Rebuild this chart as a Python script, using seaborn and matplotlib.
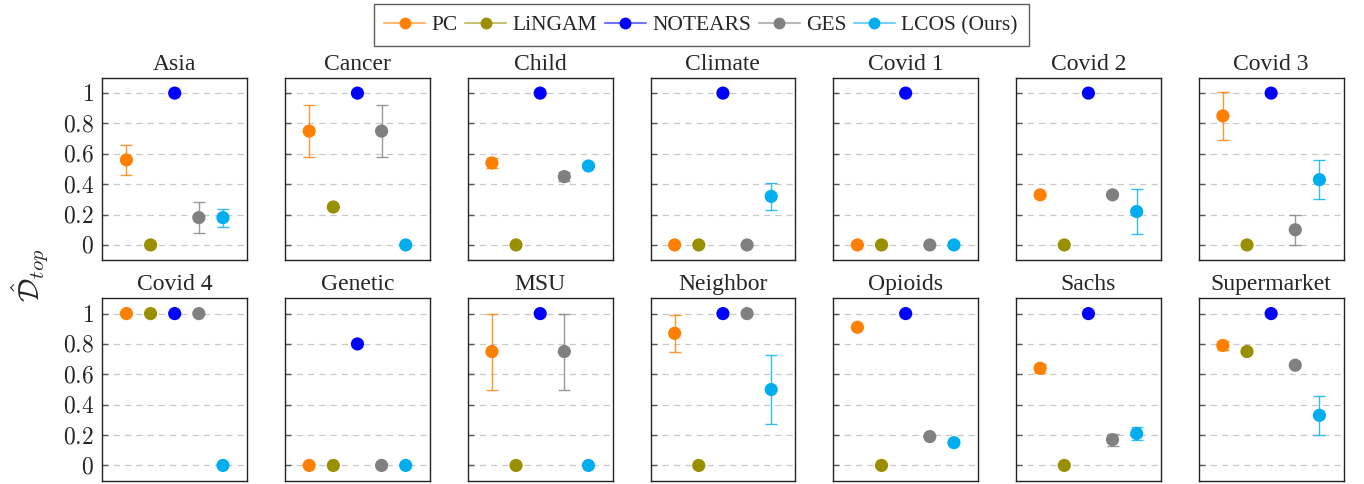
import numpy as np
import pandas as pd
import matplotlib
matplotlib.use("Agg")
import matplotlib.pyplot as plt
from matplotlib.lines import Line2D
import seaborn as sns

# --- data ---
datasets = ['Asia', 'Cancer', 'Child', 'Climate', 'Covid 1', 'Covid 2', 'Covid 3',
            'Covid 4', 'Genetic', 'MSU', 'Neighbor', 'Opioids', 'Sachs', 'Supermarket']
methods = ['PC', 'LiNGAM', 'NOTEARS', 'GES', 'LCOS (Ours)']
colors = ['#ff7f00', '#9a8f00', '#0000ff', '#808080', '#00aeef']
ytick_vals = [0, 0.2, 0.4, 0.6, 0.8, 1.0]
ytick_text = ['0', '0.2', '0.4', '0.6', '0.8', '1']

# mean value per dataset, one list per method
pc_mean      = [0.56, 0.75, 0.54, 0.00, 0.00, 0.33, 0.85, 1.00, 0.00, 0.75, 0.87, 0.91, 0.64, 0.79]
lingam_mean  = [0.00, 0.25, 0.00, 0.00, 0.00, 0.00, 0.00, 1.00, 0.00, 0.00, 0.00, 0.00, 0.00, 0.75]
notears_mean = [1.00, 1.00, 1.00, 1.00, 1.00, 1.00, 1.00, 1.00, 0.80, 1.00, 1.00, 1.00, 1.00, 1.00]
ges_mean     = [0.18, 0.75, 0.45, 0.00, 0.00, 0.33, 0.10, 1.00, 0.00, 0.75, 1.00, 0.19, 0.17, 0.66]
lcos_mean    = [0.18, 0.00, 0.52, 0.32, 0.00, 0.22, 0.43, 0.00, 0.00, 0.00, 0.50, 0.15, 0.21, 0.33]

# half-width of the error bars
pc_err      = [0.10, 0.17, 0.03, 0.00, 0.00, 0.00, 0.16, 0.00, 0.00, 0.25, 0.12, 0.00, 0.03, 0.03]
lingam_err  = [0.00] * 14
notears_err = [0.00] * 14
ges_err     = [0.10, 0.17, 0.03, 0.00, 0.00, 0.00, 0.10, 0.00, 0.00, 0.25, 0.00, 0.00, 0.04, 0.00]
lcos_err    = [0.06, 0.00, 0.00, 0.09, 0.00, 0.15, 0.13, 0.00, 0.00, 0.00, 0.23, 0.00, 0.04, 0.13]

means = [pc_mean, lingam_mean, notears_mean, ges_mean, lcos_mean]
errs = [pc_err, lingam_err, notears_err, ges_err, lcos_err]

rows = []
for m, (mv, ev) in enumerate(zip(means, errs)):
    for d, name in enumerate(datasets):
        rows.append({'dataset': name, 'method': methods[m], 'pos': m + 1,
                     'value': mv[d], 'err': ev[d]})
df = pd.DataFrame(rows)
palette = dict(zip(methods, colors))

# --- plotting ---
sns.set_style('white')
plt.rcParams['font.family'] = ['Liberation Serif', 'DejaVu Serif']
plt.rcParams['mathtext.fontset'] = 'cm'

fig, axes = plt.subplots(2, 7, figsize=(13.64, 4.84), dpi=100, sharey=True)
fig.subplots_adjust(left=0.075, right=0.985, top=0.839, bottom=0.007,
                    wspace=0.262, hspace=0.21)

for ax, name in zip(axes.flat, datasets):
    sub = df[df['dataset'] == name]
    for _, r in sub[sub['err'] > 0].iterrows():
        ax.errorbar(r['pos'], r['value'], yerr=r['err'], fmt='none',
                    ecolor=palette[r['method']], elinewidth=1.0, capsize=4,
                    capthick=1.0, alpha=0.8, zorder=2)
    sns.scatterplot(data=sub, x='pos', y='value', hue='method', palette=palette,
                    hue_order=methods, s=90, edgecolor='none', legend=False,
                    ax=ax, zorder=3)
    ax.set_xlim(0, 6)
    ax.set_ylim(-0.1, 1.1)
    ax.set_yticks(ytick_vals)
    ax.set_yticklabels(['$' + t + '$' for t in ytick_text])
    ax.set_xticks([])
    ax.set_xlabel('')
    ax.set_ylabel('')
    ax.yaxis.grid(True, linestyle=(0, (5, 4)), color='#c8c8c8', linewidth=0.9)
    ax.set_axisbelow(True)
    ax.tick_params(axis='y', direction='in', length=4, width=1, color='#555555',
                   labelsize=17, pad=6, left=True)
    for sp in ax.spines.values():
        sp.set_color('#222222')
        sp.set_linewidth(1.0)
    ax.set_title(name, fontsize=17, pad=6)

fig.text(0.022, 0.43, r'$\hat{\mathcal{D}}_{top}$', rotation=90, fontsize=21,
         ha='center', va='center')

# legend: light line with solid marker
handles = []
for c, m in zip(colors, methods):
    rgb = np.array(matplotlib.colors.to_rgb(c))
    light = tuple(rgb * 0.55 + 0.45)
    handles.append(Line2D([], [], color=light, linewidth=1.5, marker='o',
                          markersize=7.5, markerfacecolor=c, markeredgecolor=c))
leg = fig.legend(handles, methods, loc='center', bbox_to_anchor=(0.514, 0.948),
                 ncol=5, frameon=True, fancybox=False, fontsize=15.5,
                 handlelength=1.9, handletextpad=0.3, columnspacing=0.35,
                 borderpad=0.5)
leg.get_frame().set_edgecolor('#333333')
leg.get_frame().set_linewidth(1.0)

fig.savefig('out.png', dpi=100)
